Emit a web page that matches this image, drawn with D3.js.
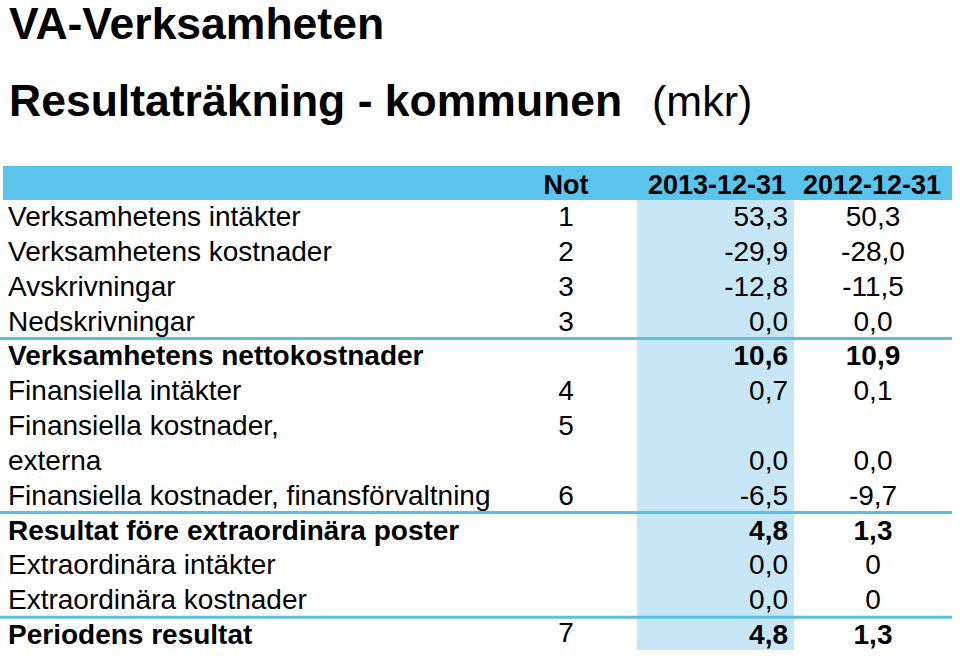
<!DOCTYPE html>
<html>
<head>
<meta charset="utf-8">
<script src="https://cdn.jsdelivr.net/npm/d3@7"></script>
<style>
  html, body { margin: 0; padding: 0; background: #ffffff; }
  svg { display: block; font-family: "Liberation Sans", Arial, Helvetica, sans-serif; }
</style>
</head>
<body>
<svg id="chart" width="960" height="658"></svg>
<script>
const title = "VA-Verksamheten";
const subtitleBold = "Resultaträkning - kommunen";
const subtitleUnit = "(mkr)";
const headers = ["Not", "2013-12-31", "2012-12-31"];

const rowLabels = [
  "Verksamhetens intäkter",
  "Verksamhetens kostnader",
  "Avskrivningar",
  "Nedskrivningar",
  "Verksamhetens nettokostnader",
  "Finansiella intäkter",
  "Finansiella kostnader,",
  "externa",
  "Finansiella kostnader, finansförvaltning",
  "Resultat före extraordinära poster",
  "Extraordinära intäkter",
  "Extraordinära kostnader",
  "Periodens resultat"
];
const notes = ["1", "2", "3", "3", "", "4", "5", "", "6", "", "", "", "7"];
const values2013 = ["53,3", "-29,9", "-12,8", "0,0", "10,6", "0,7", "", "0,0", "-6,5", "4,8", "0,0", "0,0", "4,8"];
const values2012 = ["50,3", "-28,0", "-11,5", "0,0", "10,9", "0,1", "", "0,0", "-9,7", "1,3", "0", "0", "1,3"];
const boldRows = [4, 9, 12];
const separatorsAfter = [3, 8, 11];

const svg = d3.select("#chart");

// Titles
svg.append("text").attr("x", 9).attr("y", 39)
  .attr("font-size", 44.5).attr("font-weight", "bold").attr("fill", "#000")
  .text(title);
svg.append("text").attr("x", 9).attr("y", 116)
  .attr("font-size", 44.5).attr("font-weight", "bold").attr("fill", "#000")
  .text(subtitleBold);
svg.append("text").attr("x", 652).attr("y", 116)
  .attr("font-size", 43).attr("fill", "#000")
  .text(subtitleUnit);

// Row scale
const idx = d3.range(rowLabels.length);
const y = d3.scaleBand().domain(idx).range([200, 653]).paddingInner(0).paddingOuter(0);

// Column positions
const col = { label: 8, note: 566, v2013: 788, v2012: 873 };
const colBand = { x0: 637, x1: 794 };

// Header bar
svg.append("rect").attr("x", 3).attr("y", 166).attr("width", 949).attr("height", 34)
  .attr("fill", "#5BC4EC");

// Highlight column for 2013
svg.append("rect").attr("x", colBand.x0).attr("y", y(0))
  .attr("width", colBand.x1 - colBand.x0).attr("height", 650 - y(0))
  .attr("fill", "#C8E7F6");

// Header text
const hdr = svg.append("g").attr("font-size", 27).attr("font-weight", "bold").attr("fill", "#000");
hdr.append("text").attr("x", col.note).attr("y", 194).attr("text-anchor", "middle").text(headers[0]);
hdr.append("text").attr("x", col.v2013 - 2).attr("y", 194).attr("text-anchor", "end").text(headers[1]);
hdr.append("text").attr("x", col.v2012 - 1).attr("y", 194).attr("text-anchor", "middle").text(headers[2]);

// Separator lines
svg.selectAll("line.sep").data(separatorsAfter).join("line")
  .attr("class", "sep")
  .attr("x1", 0).attr("x2", 952)
  .attr("y1", d => y(d + 1) - 1).attr("y2", d => y(d + 1) - 1)
  .attr("stroke", "#5CBFE2").attr("stroke-width", 3);

// Rows
const rows = svg.selectAll("g.row").data(idx).join("g")
  .attr("class", "row")
  .attr("transform", i => `translate(0,${y(i) + 26})`)
  .attr("font-size", 28)
  .attr("font-weight", i => boldRows.includes(i) ? "bold" : "normal")
  .attr("fill", "#000");

rows.append("text").attr("x", col.label).text(i => rowLabels[i]);
rows.append("text").attr("x", col.note).attr("text-anchor", "middle")
  .attr("font-weight", "normal")
  .attr("dy", i => i === 12 ? -2 : 0)
  .text(i => notes[i]);
rows.append("text").attr("x", col.v2013).attr("text-anchor", "end").text(i => values2013[i]);
rows.append("text").attr("x", col.v2012).attr("text-anchor", "middle").text(i => values2012[i]);
</script>
</body>
</html>
